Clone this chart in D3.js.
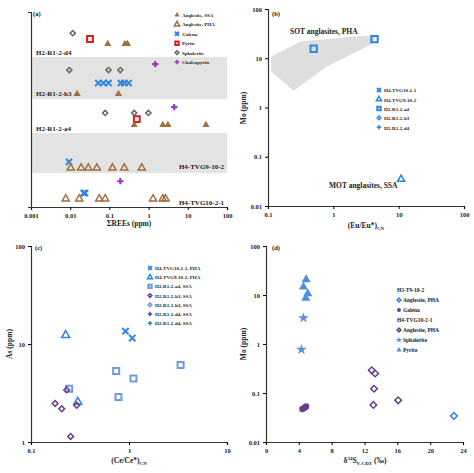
<!DOCTYPE html><html><head><meta charset="utf-8"><script src="https://cdn.jsdelivr.net/npm/d3@7"></script>
<style>body{margin:0;background:#fff}text{font-family:"Liberation Serif",serif;font-weight:bold}</style></head><body>
<svg id="s" width="474" height="473"></svg>
<script>
// ---------- data ----------
// panel a: each point [row, offsetInRow, value, series]
const aRows=["H2-R1-2-d4","H2-R1-2-h3","H2-R1-2-a4","H4-TVG9-10-2","H4-TVG10-2-1"];
const aSeries=["Anglesite, SSA","Anglesite, PHA","Galena","Pyrite","Sphalerite","Chalcopyrite"];
const aPts=[
[0,0.47,0.0116,"Sphalerite"],[0,0.6,0.032,"Pyrite"],[0,0.71,0.091,"Anglesite, SSA"],[0,0.71,0.25,"Anglesite, SSA"],[0,0.71,0.29,"Anglesite, SSA"],
[1,0.17,1.48,"Chalcopyrite"],[1,0.31,0.0095,"Sphalerite"],[1,0.31,0.095,"Sphalerite"],[1,0.31,0.19,"Sphalerite"],
[1,0.62,0.052,"Galena"],[1,0.62,0.07,"Galena"],[1,0.62,0.095,"Galena"],[1,0.62,0.195,"Galena"],[1,0.62,0.24,"Galena"],[1,0.62,0.31,"Galena"],
[1,0.88,0.015,"Anglesite, SSA"],[1,0.88,0.17,"Anglesite, SSA"],
[2,0.24,4.5,"Chalcopyrite"],[2,0.41,0.078,"Sphalerite"],[2,0.41,0.43,"Sphalerite"],[2,0.41,0.99,"Sphalerite"],[2,0.59,0.5,"Pyrite"],
[2,0.76,0.43,"Anglesite, SSA"],[2,0.76,2.3,"Anglesite, SSA"],[2,0.76,3.1,"Anglesite, SSA"],[2,0.76,29,"Anglesite, SSA"],
[3,0.72,0.0093,"Galena"],[3,0.87,0.0103,"Anglesite, PHA"],[3,0.87,0.019,"Anglesite, PHA"],[3,0.87,0.029,"Anglesite, PHA"],[3,0.87,0.048,"Anglesite, PHA"],[3,0.87,0.12,"Anglesite, PHA"],[3,0.87,0.24,"Anglesite, PHA"],[3,0.87,0.67,"Anglesite, PHA"],
[4,0.24,0.19,"Chalcopyrite"],[4,0.59,0.022,"Galena"],[4,0.59,0.024,"Galena"],
[4,0.76,0.0077,"Anglesite, PHA"],[4,0.76,0.017,"Anglesite, PHA"],[4,0.76,0.055,"Anglesite, PHA"],[4,0.76,0.078,"Anglesite, PHA"],[4,0.76,1.3,"Anglesite, PHA"],[4,0.76,2.3,"Anglesite, PHA"],[4,0.76,2.7,"Anglesite, PHA"]];
const aBandEdges=[0,0.231,0.446,0.621,0.826,1];
const aLabelOffsets=[0.89,0.86,0.85,0.82,0.85];
const aTicks=[0.001,0.01,0.1,1,10,100];
// panel b
const bPoly=[[0.112,10.9],[0.313,21.9],[4.4,30],[4.18,20.3],[0.8,6.8],[0.247,2.2],[0.112,5.4]];
const bSeries=["H4-TVG10-2-1","H4-TVG9-10-2","H2-R1-2-a4","H2-R1-2-h3","H2-R1-2-d4"];
const bPts=[[0.5,15.6,"H2-R1-2-a4"],[4.27,24.5,"H2-R1-2-a4"],[10.9,0.035,"H4-TVG9-10-2"]];
const bXTicks=[0.1,1,10,100], bYTicks=[0.01,0.1,1,10,100];
// panel c
const cSeries=["H4-TVG10-2-1, PHA","H4-TVG9-10-2, PHA","H2-R1-2-a4, SSA","H2-R1-2-h3, SSA","H2-R1-2-h3, SSA","H2-R1-2-d4, SSA","H2-R1-2-d4, SSA"];
const cPts=[[0.92,13.5,0],[1.08,11.5,0],[0.226,12.3,1],[0.30,2.56,1],[0.245,3.5,2],[0.74,5.3,2],[0.78,2.88,2],[1.11,4.45,2],[3.36,6.1,2],
[0.176,2.47,3],[0.206,2.18,3],[0.254,1.14,3],[0.293,2.37,3],[0.231,3.4,3]];
const cXTicks=[0.1,1,10], cYTicks=[1,10,100];
// panel d
const dLegend=[["H3-T9-10-2",null],["Anglesite, PHA",0],["Galena",1],["H4-TVG10-2-1",null],["Anglesite, PHA",2],["Sphalerite",3],["Pyrite",4]];
const dPts=[[4.89,20.6,4],[4.56,14.6,4],[5.09,10.7,4],[4.85,8.6,4],[4.56,3.4,3],[4.32,0.77,3],[4.44,0.047,1],[4.7,0.05,1],[4.89,0.053,1],
[12.88,0.29,2],[13.3,0.25,2],[13.16,0.122,2],[13.08,0.057,2],[16.1,0.071,2],[22.9,0.034,0]];
const dXTicks=[0,4,8,12,16,20,24], dYTicks=[0.01,0.1,1,10,100];

// ---------- drawing ----------
const svg=d3.select("#s");
const BLUE="#2f86e0",BROWN="#a0703c",PURP="#6a3d8c";
function mark(g,type,x,y,col,size){
  const sz=size||30;
  if(type==="x"){g.append("path").attr("d",d3.symbol().type(d3.symbolX).size(sz)()).attr("transform",`translate(${x},${y})`).attr("stroke",col).attr("stroke-width",2).attr("fill","none");return;}
  const map={tri:d3.symbolTriangle,otri:d3.symbolTriangle,sq:d3.symbolSquare,circ:d3.symbolCircle,plus:d3.symbolCross,star:d3.symbolStar,odia:d3.symbolSquare};
  const p=g.append("path").attr("d",d3.symbol().type(map[type]).size(type==="odia"?sz*0.6:sz)()).attr("transform",`translate(${x},${y})`+(type==="odia"?" rotate(45)":""));
  if(type==="tri"||type==="circ"||type==="plus"||type==="star")p.attr("fill",col);
  else p.attr("fill","none").attr("stroke",col).attr("stroke-width",type==="sq"?2:1.5);
}
function axes(g,x,y,xt,yt,fx,fy){
  const ax=g.append("g").attr("transform",`translate(0,${d3.max(y.range())})`).call(d3.axisBottom(x).tickValues(xt).tickFormat(fx).tickSize(3));
  const ay=g.append("g").attr("transform",`translate(${x.range()[0]},0)`).call(d3.axisLeft(y).tickValues(yt).tickFormat(fy||(()=>"")).tickSize(3));
  [ax,ay].forEach(a=>{a.selectAll("text").style("font-size","6.5px").attr("fill","#222");a.select(".domain").attr("stroke","#333").attr("stroke-width",1.2);});
}
const lf=d=>String(d);
function txt(x,y,t,sz,anchor){return svg.append("text").attr("x",x).attr("y",y).attr("font-size",sz).attr("text-anchor",anchor||"start").attr("fill","#222").text(t);}

// Panel a
{const x=d3.scaleLog().domain([0.001,100]).range([31,227]);
 const y=d3.scaleLinear().domain([0,1]).range([12,207]);
 const pos=(r,o)=>y(aBandEdges[r]+o*(aBandEdges[r+1]-aBandEdges[r]));
 const g=svg.append("g");
 aRows.forEach((r,i)=>{if(i%2===1)g.append("rect").attr("x",x(0.001)).attr("width",x(100)-x(0.001)).attr("y",pos(i,0)).attr("height",pos(i,1)-pos(i,0)).attr("fill","#e3e3e3");});
 const cfg={"Anglesite, SSA":["tri",BROWN],"Anglesite, PHA":["otri",BROWN],"Galena":["x",BLUE],"Pyrite":["sq","#d42020"],"Sphalerite":["odia","#666"],"Chalcopyrite":["plus","#9b2fd0"]};
 aPts.forEach(p=>{const c=cfg[p[3]];mark(g,c[0],x(p[2]),pos(p[0],p[1]),c[1],c[0]==="sq"?34:c[0]==="x"?26:22);});
 axes(g,x,y,aTicks,[],lf,null);
 aRows.forEach((r,i)=>{const right=i>=3;txt(right?224:36,pos(i,aLabelOffsets[i])+3,r,7,right?"end":"start");});
 aSeries.forEach((s,i)=>{const c=cfg[s];mark(g,c[0],177,15+i*9.4,c[1],12);txt(182,17+i*9.4,s,5);});
 txt(33,16,"(a)",6.5);
 txt(129,226,"ΣREEs (ppm)",7.5,"middle");}

// Panel b
{const x=d3.scaleLog().domain([0.1,100]).range([268,464]);
 const y=d3.scaleLog().domain([0.01,100]).range([206,9]);
 const g=svg.append("g");
 g.append("path").attr("d",d3.line().x(d=>x(d[0])).y(d=>y(d[1]))(bPoly)+"Z").attr("fill","#dedede");
 const cfg={"H4-TVG10-2-1":"x","H4-TVG9-10-2":"otri","H2-R1-2-a4":"sq","H2-R1-2-h3":"odia","H2-R1-2-d4":"plus"};
 bPts.forEach(p=>mark(g,cfg[p[2]],x(p[0]),y(p[1]),BLUE,cfg[p[2]]==="sq"?40:22));
 axes(g,x,y,bXTicks,bYTicks,lf,lf);
 bSeries.forEach((s,i)=>{mark(g,cfg[s],379,90+i*9.3,BLUE,12);txt(384,92.3+i*9.3,s,5);});
 txt(290,34,"SOT anglasites, PHA",7.5);
 txt(329,188,"MOT anglasites, SSA",7.5);
 txt(272,16,"(b)",6.5);
 const t=txt(366,228,"(Eu/Eu*)",7.5,"middle");t.append("tspan").attr("font-size",5).attr("dy",2).text("CN");
 svg.append("text").attr("transform","translate(246,108) rotate(-90)").attr("text-anchor","middle").attr("font-size",7.5).attr("fill","#222").text("Mo (ppm)");}

// Panel c
{const x=d3.scaleLog().domain([0.1,10]).range([31,227]);
 const y=d3.scaleLog().domain([1,100]).range([442,246]);
 const g=svg.append("g");
 const types=[["x",BLUE],["otri",BLUE],["sq","#6b9be0"],["odia",PURP],["odia","#6b9be0"],["plus",PURP],["plus",BLUE]];
 cPts.forEach(p=>mark(g,types[p[2]][0],x(p[0]),y(p[1]),types[p[2]][1],types[p[2]][0]==="sq"?36:28));
 axes(g,x,y,cXTicks,cYTicks,lf,lf);
 cSeries.forEach((s,i)=>{mark(g,types[i][0],150,268+i*9.2,types[i][1],11);txt(155,270+i*9.2,s,5);});
 txt(35,250,"(c)",6.5);
 const t=txt(129,463,"(Ce/Ce*)",7.5,"middle");t.append("tspan").attr("font-size",5).attr("dy",2).text("CN");
 svg.append("text").attr("transform","translate(12,344) rotate(-90)").attr("text-anchor","middle").attr("font-size",7.5).attr("fill","#222").text("As (ppm)");}

// Panel d
{const x=d3.scaleLinear().domain([0,24]).range([266,463]);
 const y=d3.scaleLog().domain([0.01,100]).range([442,246]);
 const g=svg.append("g");
 const types=[["odia",BLUE],["circ",PURP],["odia",PURP],["star","#5b8fe0"],["tri","#4f8fe0"]];
 dPts.forEach(p=>mark(g,types[p[2]][0],x(p[0]),y(p[1]),types[p[2]][1],p[2]===1?32:36));
 axes(g,x,y,dXTicks,dYTicks,lf,lf);
 dLegend.forEach((l,i)=>{const yy=290+i*10;if(l[1]===null){txt(397,yy+2,l[0],5.5);}else{mark(g,types[l[1]][0],399,yy,types[l[1]][1],12);txt(403,yy+2,l[0],5.5);}});
 txt(272,250,"(d)",6.5);
 const t=txt(365,463,"δ",7.5,"middle");t.append("tspan").attr("font-size",5).attr("dy",-3).text("34");t.append("tspan").attr("dy",3).text("S");t.append("tspan").attr("font-size",5).attr("dy",2).text("V-CDT");t.append("tspan").attr("dy",-2).text(" (‰)");
 svg.append("text").attr("transform","translate(246,344) rotate(-90)").attr("text-anchor","middle").attr("font-size",7.5).attr("fill","#222").text("Mo (ppm)");}
</script></body></html>
